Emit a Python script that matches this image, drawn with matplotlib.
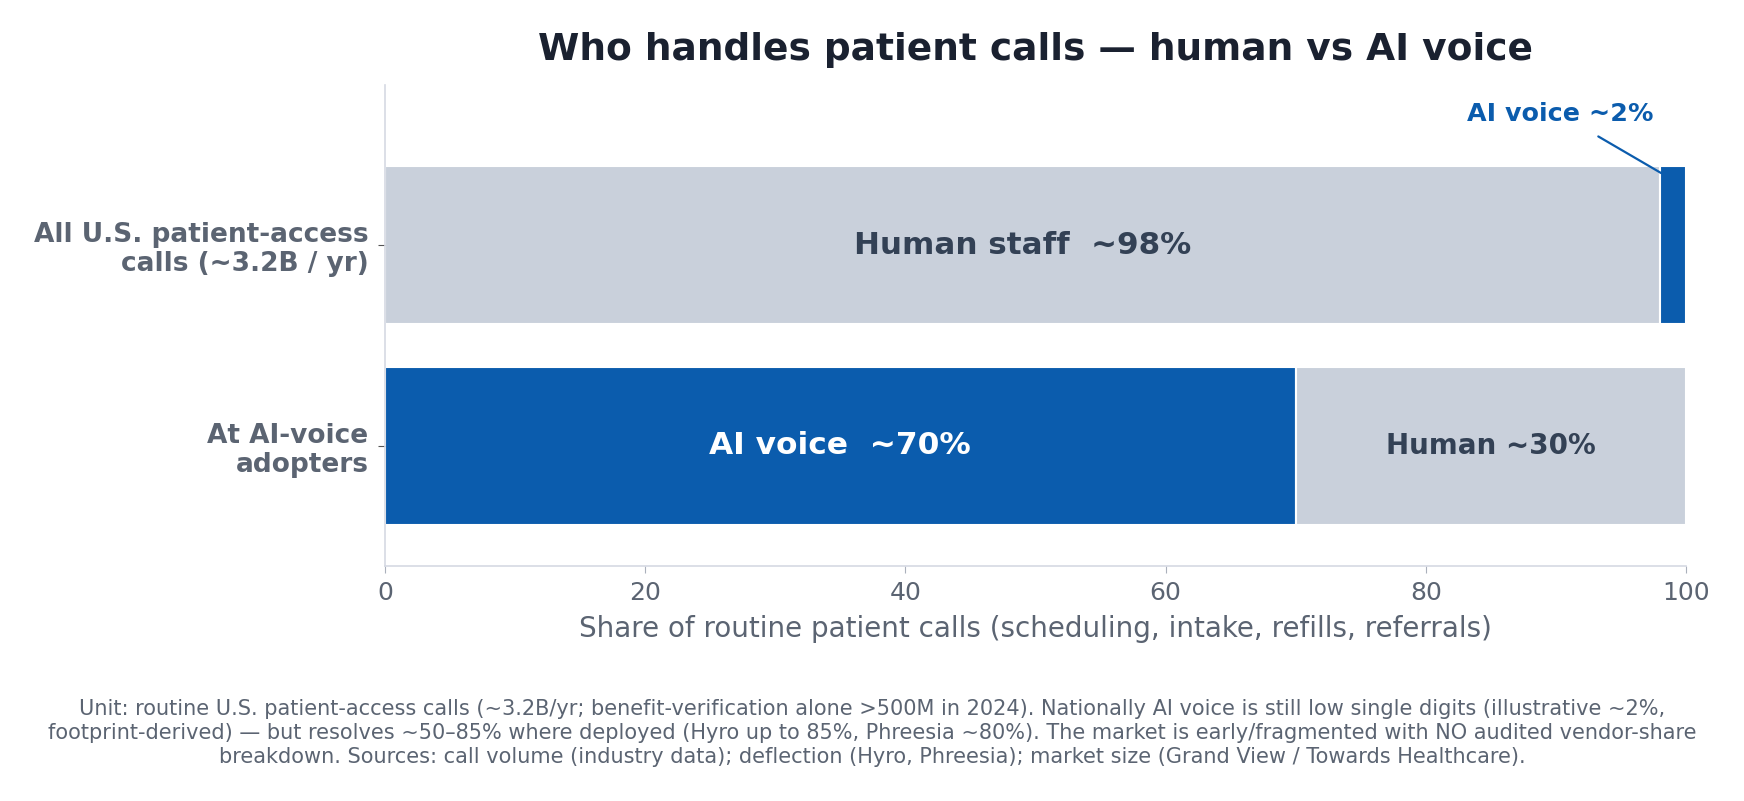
import matplotlib.pyplot as plt

categories = ['All U.S. patient-access\ncalls (~3.2B / yr)', 'At AI-voice\nadopters']
ai_share = [2, 70]
human_share = [98, 30]
seg_labels = [('Human staff  ~98%', None), ('AI voice  ~70%', 'Human ~30%')]

BLUE = '#0b5cad'
GRAY = '#c9d0db'
DARK = '#334155'
MUTED = '#5b6472'

fig = plt.figure(figsize=(17.44, 8.01), dpi=100)
ax = fig.add_axes([0.2208, 0.2934, 0.7459, 0.6006])

ypos = [1, 0]
h = 0.79
# top bar: human first, AI at the end; bottom bar: AI first
ax.barh(ypos[0], human_share[0], height=h, color=GRAY, edgecolor='white', linewidth=1.5)
ax.barh(ypos[0], ai_share[0], left=human_share[0], height=h, color=BLUE, edgecolor='white', linewidth=1.5)
ax.barh(ypos[1], ai_share[1], height=h, color=BLUE, edgecolor='white', linewidth=1.5)
ax.barh(ypos[1], human_share[1], left=ai_share[1], height=h, color=GRAY, edgecolor='white', linewidth=1.5)

ax.text(human_share[0] / 2, ypos[0], seg_labels[0][0], ha='center', va='center',
        fontsize=22.3, fontweight='bold', color=DARK)
ax.text(ai_share[1] / 2, ypos[1], seg_labels[1][0], ha='center', va='center',
        fontsize=22.5, fontweight='bold', color='white')
ax.text(ai_share[1] + human_share[1] / 2, ypos[1], seg_labels[1][1], ha='center', va='center',
        fontsize=20, fontweight='bold', color=DARK)

ax.annotate('AI voice ~2%', xy=(human_share[0] + 0.1, ypos[0] + 0.36),
            xytext=(90.3, 1.655), ha='center', va='center',
            fontsize=18.3, fontweight='bold', color=BLUE,
            arrowprops=dict(arrowstyle='-', color=BLUE, lw=1.6, shrinkA=11, shrinkB=0))

ax.set_xlim(0, 100)
ax.set_ylim(-0.6, 1.8)
ax.set_yticks(ypos)
ax.set_yticklabels(categories, fontsize=19, fontweight='bold', color=MUTED, linespacing=1.15)
ax.tick_params(axis='x', labelsize=18, colors=MUTED, length=5, color='#aab0bb', pad=6)
ax.tick_params(axis='y', length=5, color='#555555', width=0.8, pad=7)
for lab in ax.get_xticklabels():
    lab.set_color(MUTED)
ax.set_xlabel('Share of routine patient calls (scheduling, intake, refills, referrals)',
              fontsize=20, color=MUTED, labelpad=7)
ax.set_title('Who handles patient calls — human vs AI voice', fontsize=27,
             fontweight='bold', color='#1a2130', pad=18)

for s in ['top', 'right']:
    ax.spines[s].set_visible(False)
for s in ['left', 'bottom']:
    ax.spines[s].set_color('#d5d9e3')
    ax.spines[s].set_linewidth(1.2)

note = ('Unit: routine U.S. patient-access calls (~3.2B/yr; benefit-verification alone >500M in 2024). '
        'Nationally AI voice is still low single digits (illustrative ~2%,\n'
        'footprint-derived) — but resolves ~50–85% where deployed (Hyro up to 85%, Phreesia ~80%). '
        'The market is early/fragmented with NO audited vendor-share\n'
        'breakdown. Sources: call volume (industry data); deflection (Hyro, Phreesia); '
        'market size (Grand View / Towards Healthcare).')
fig.text(0.5, 0.085, note, ha='center', va='center', fontsize=15, color=MUTED, linespacing=1.25)

fig.savefig('out.png', dpi=100)
